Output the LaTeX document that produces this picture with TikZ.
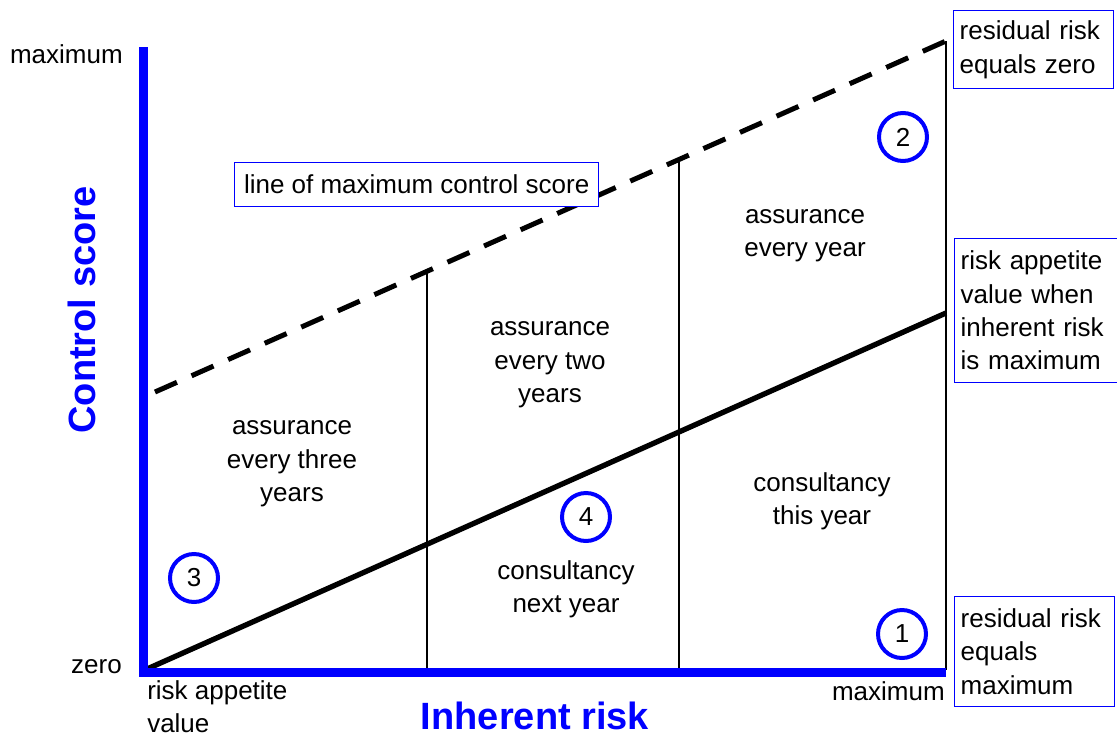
\documentclass[tikz,border=0pt]{standalone}
\usepackage{fontspec}
\setmainfont{Liberation Sans}

\begin{document}
\begin{tikzpicture}[x=0.75pt,y=-0.75pt,
    every node/.style={font=\fontsize{19.5}{25}\selectfont},
    axislabel/.style={text=blue,font=\fontsize{28.5}{34}\selectfont\bfseries},
    infobox/.style={draw=blue,line width=1pt,fill=white,align=left,anchor=north west,inner xsep=4.5pt},
    region/.style={align=center},
    marker/.style={circle,draw=blue,line width=3pt,minimum size=36pt,inner sep=0pt}]
  \useasboundingbox (0,0) rectangle (1117,736);

  \coordinate (origin) at (147,669);
  \coordinate (corner) at (143,672);
  \coordinate (ytop) at (143,47);
  \coordinate (xend) at (946,672);
  \coordinate (appetite) at (946,313);
  \coordinate (dashstart) at (155,392);
  \coordinate (dashend) at (946,41);
  \coordinate (foot1) at (427,670);
  \coordinate (top1) at (427,271);
  \coordinate (foot2) at (679,670);
  \coordinate (top2) at (679,159);
  \coordinate (foot3) at (946,670);

  \draw[line width=1pt] (foot1) -- (top1);
  \draw[line width=1pt] (foot2) -- (top2);
  \draw[line width=1pt] (foot3) -- (dashend);

  \draw[line width=4pt] (origin) -- (appetite);
  \draw[line width=3.75pt,dash pattern=on 18pt off 12pt] (dashstart) -- (dashend);

  \draw[blue,line width=6.75pt] (ytop) -- (corner) -- (xend);

  \node[anchor=base east,inner sep=0pt] (ymax) at (123,63) {maximum};
  \node[anchor=base east,inner sep=0pt] (yzero) at (122,673) {zero};
  \node[anchor=north west,align=left,inner sep=0pt] (xzero) at (147,680) {risk appetite\\value};
  \node[anchor=base east,inner sep=0pt] (xmax) at (945,700) {maximum};

  \node[axislabel] (xlabel) at (535,716) {Inherent risk};
  \node[axislabel,rotate=90] (ylabel) at (82,310) {Control score};

  \node[region] (three) at (292,464) {assurance\\every three\\years};
  \node[region] (two) at (550,365) {assurance\\every two\\years};
  \node[region] (every) at (805,236) {assurance\\every year};
  \node[region] (this) at (822,501) {consultancy\\this year};
  \node[region] (next) at (566,589) {consultancy\\next year};

  \node[marker] (m1) at (902,634) {1};
  \node[marker] (m2) at (903,137) {2};
  \node[marker] (m3) at (194,578) {3};
  \node[marker] (m4) at (586,517) {4};

  \node[infobox,text width=111pt,minimum height=58.5pt] (zerobox) at (953,10) {residual risk\\equals zero};
  \node[infobox,text width=113pt,minimum height=108pt] (appbox) at (954,238) {risk appetite\\value when\\inherent risk\\is maximum};
  \node[infobox,text width=111pt,minimum height=82.5pt] (maxbox) at (954,596) {residual risk\\equals\\maximum};
  \node[infobox,minimum height=33pt,inner xsep=7pt] (linebox) at (234,162) {line of maximum control score};
\end{tikzpicture}
\end{document}
